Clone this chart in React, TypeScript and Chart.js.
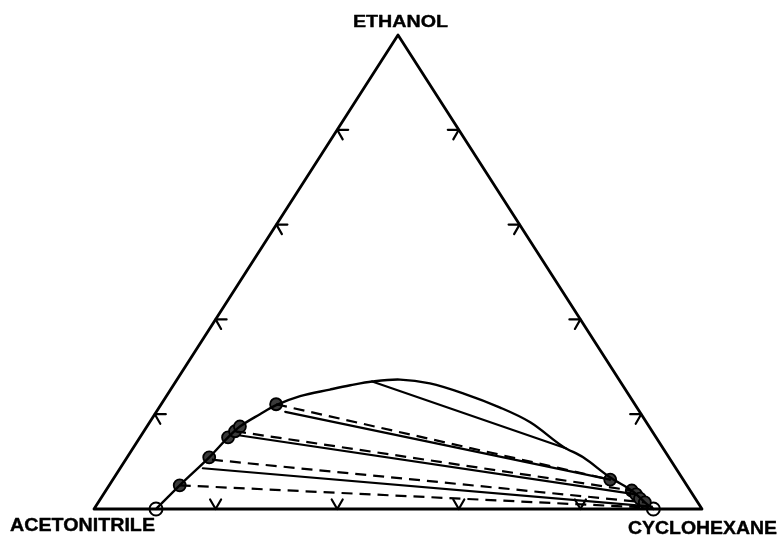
import { useEffect, useRef } from "react";
import { Chart, registerables } from "chart.js";

Chart.register(...registerables);

// Compositions are [ethanol, cyclohexane] fractions; acetonitrile is the remainder.
const binodal: [number, number][] = [
  [0.0, 0.102], [0.05, 0.116], [0.109, 0.135], [0.151, 0.145], [0.174, 0.153],
  [0.2, 0.173], [0.219, 0.19], [0.238, 0.22], [0.252, 0.262], [0.261, 0.291],
  [0.269, 0.323], [0.273, 0.367], [0.265, 0.42], [0.244, 0.485], [0.214, 0.561],
  [0.183, 0.626], [0.132, 0.705], [0.109, 0.75], [0.067, 0.815], [0.039, 0.865],
  [0.014, 0.899], [0.0, 0.92],
];

// Measured tie lines (solid): [left end, right end]
const solidTies: [number, number][][] = [
  [[0.269, 0.323], [0.128, 0.712]],
  [[0.205, 0.212], [0.062, 0.818]],
  [[0.155, 0.163], [0.031, 0.876]],
  [[0.086, 0.136], [0.005, 0.915]],
];

// Predicted tie lines (dashed)
const dashedTies: [number, number][][] = [
  [[0.221, 0.189], [0.062, 0.818]],
  [[0.164, 0.15], [0.039, 0.865]],
  [[0.104, 0.142], [0.014, 0.899]],
  [[0.05, 0.116], [0.003, 0.91]],
];

// Filled markers: raffinate phase and extract phase end points
const raffinatePts: [number, number][] = [
  [0.05, 0.116], [0.109, 0.135], [0.151, 0.145], [0.164, 0.15], [0.174, 0.153], [0.221, 0.189],
];
const extractPts: [number, number][] = [
  [0.062, 0.818], [0.039, 0.865], [0.031, 0.876], [0.022, 0.887], [0.014, 0.899],
];
// Binary solubility limits on the acetonitrile–cyclohexane edge
const binaryPts: [number, number][] = [[0.0, 0.102], [0.0, 0.92]];

const sideTicks = [0.2, 0.4, 0.6, 0.8];
const vertexLabels = { top: "ETHANOL", left: "ACETONITRILE", right: "CYCLOHEXANE" };

const toXY = ([e, c]: [number, number]) => ({ x: c + 0.5 * e, y: e });

const ternaryDecor = {
  id: "ternaryDecor",
  afterDatasetsDraw(chart: any) {
    const { ctx, scales } = chart;
    const px = (x: number) => scales.x.getPixelForValue(x);
    const py = (y: number) => scales.y.getPixelForValue(y);
    const L = 11;
    const c60 = Math.cos(Math.PI / 3) * L;
    const s60 = Math.sin(Math.PI / 3) * L;
    ctx.save();
    ctx.strokeStyle = "#000";
    ctx.lineWidth = 2.2;
    ctx.lineCap = "round";
    ctx.lineJoin = "round";
    const arrow = (x: number, y: number, a: [number, number], b: [number, number]) => {
      ctx.beginPath();
      ctx.moveTo(x + a[0], y + a[1]);
      ctx.lineTo(x, y);
      ctx.lineTo(x + b[0], y + b[1]);
      ctx.stroke();
    };
    for (const f of sideTicks) {
      // base: V opening upward
      arrow(px(f), py(0), [-c60, -s60], [c60, -s60]);
      // left side: opening to the right
      arrow(px(f / 2), py(f), [L, 0], [c60, s60]);
      // right side: opening to the left
      arrow(px(1 - f / 2), py(f), [-L, 0], [-c60, s60]);
    }
    ctx.fillStyle = "#000";
    ctx.textBaseline = "alphabetic";
    ctx.lineWidth = 0.4;
    const label = (text: string, x0: number, x1: number, base: number, size: number) => {
      ctx.font = `bold ${size}px "Liberation Sans", Arial, sans-serif`;
      const w = ctx.measureText(text).width;
      ctx.save();
      ctx.translate(x0, base);
      ctx.scale((x1 - x0) / w, 1);
      ctx.fillText(text, 0, 0);
      ctx.strokeText(text, 0, 0);
      ctx.restore();
    };
    label(vertexLabels.top, 353, 448, 27, 17);
    label(vertexLabels.left, 10, 155, 531, 19);
    label(vertexLabels.right, 628, 777, 534, 18);
    ctx.restore();
  },
};

export default function App() {
  const ref = useRef<HTMLCanvasElement | null>(null);

  useEffect(() => {
    if (!ref.current) return;
    const lineDs = (pts: { x: number; y: number }[], dashed: boolean, width: number) => ({
      data: pts,
      showLine: true,
      borderColor: "#000",
      borderWidth: width,
      borderDash: dashed ? [11, 7] : [],
      borderCapStyle: "round",
      borderJoinStyle: "round",
      pointRadius: 0,
      fill: false,
    });
    const datasets: any[] = [];
    // triangle outline: acetonitrile corner, ethanol apex, cyclohexane corner
    datasets.push(lineDs([{ x: 0, y: 0 }, { x: 0.5, y: 1 }, { x: 1, y: 0 }, { x: 0, y: 0 }], false, 2.8));
    datasets.push({ ...lineDs(binodal.map(toXY), false, 2.4), tension: 0.35 });
    solidTies.forEach((t) => datasets.push(lineDs(t.map(toXY), false, 2.2)));
    dashedTies.forEach((t) => datasets.push({ ...lineDs(t.map(toXY), true, 2.2), borderCapStyle: "butt" }));
    datasets.push({
      data: [...raffinatePts, ...extractPts].map(toXY),
      showLine: false,
      pointRadius: 6,
      pointBackgroundColor: "#3a3a3a",
      pointBorderColor: "#000",
      pointBorderWidth: 1.8,
    });
    datasets.push({
      data: binaryPts.map(toXY),
      showLine: false,
      pointRadius: 6.5,
      pointBackgroundColor: "#fff",
      pointBorderColor: "#000",
      pointBorderWidth: 2,
    });

    const chart = new Chart(ref.current, {
      type: "scatter",
      data: { datasets },
      options: {
        animation: false,
        responsive: false,
        clip: false as any,
        layout: { padding: { left: 94, right: 80, top: 35, bottom: 28 } },
        plugins: { legend: { display: false }, tooltip: { enabled: false } },
        scales: {
          x: { type: "linear", min: 0, max: 1, display: false },
          y: { type: "linear", min: 0, max: 1, display: false },
        },
      },
      plugins: [ternaryDecor],
    });
    return () => chart.destroy();
  }, []);

  return (
    <div style={{ position: "absolute", left: 0, top: 0, width: 782, height: 537, background: "#fff" }}>
      <canvas ref={ref} width={782} height={537} />
    </div>
  );
}
